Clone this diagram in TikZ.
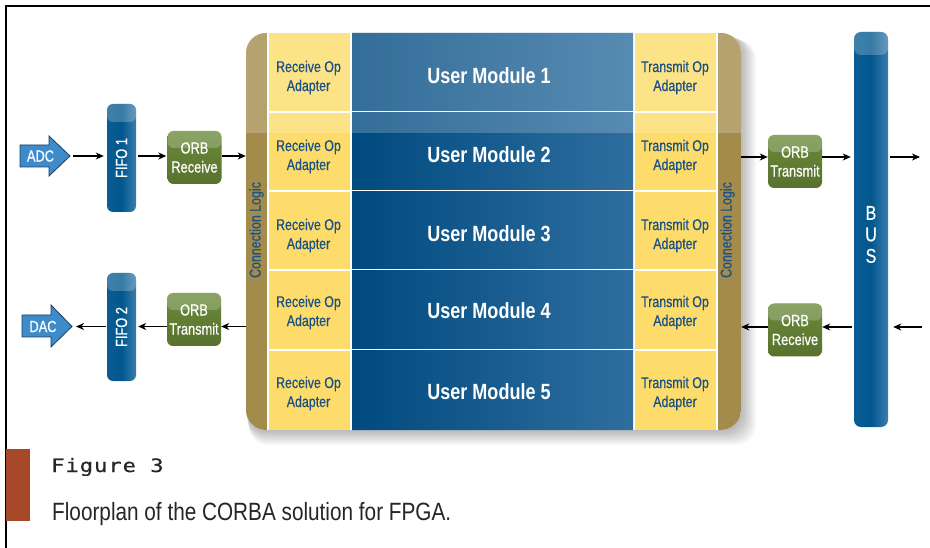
\documentclass[tikz,border=0pt]{standalone}
\usepackage{fontspec}
\setmainfont{Liberation Sans}
\newfontfamily\cnd[FakeStretch=0.8,FakeBold=0.6]{Liberation Sans}
\newfontfamily\cndb[FakeStretch=0.82]{Liberation Sans Bold}
\newfontfamily\capf[FakeStretch=0.83]{Liberation Sans}
\newfontfamily\figmono[FakeStretch=1.2,LetterSpace=5,FakeBold=0.5]{DejaVu Sans Mono}
\usetikzlibrary{arrows.meta,calc}

\definecolor{txtblue}{HTML}{1B5283}
\definecolor{tanstrip}{HTML}{A38B4B}
\definecolor{adapt}{HTML}{FDDC6B}
\definecolor{modL}{HTML}{004A7F}
\definecolor{modR}{HTML}{2F6E9F}
\definecolor{fifoL}{HTML}{0A5D92}
\definecolor{fifoM}{HTML}{00578E}
\definecolor{fifoR}{HTML}{3D7DAD}
\definecolor{orbT}{HTML}{6B8A3A}
\definecolor{orbB}{HTML}{58722E}
\definecolor{arrfill}{HTML}{3D8BCB}
\definecolor{arrline}{HTML}{1E3F5E}
\definecolor{capred}{HTML}{A8482A}

\tikzset{
  arr/.style={line width=1.2pt,-{Stealth[length=8pt,width=7pt,inset=2.5pt]}},
  gloss/.style={path picture={\fill[white,opacity=.22]
      ([yshift=2pt]path picture bounding box.north west) rectangle
      ([yshift=-#1]path picture bounding box.north east);}},
  fifobox/.style={rounded corners=6pt,minimum width=29pt,minimum height=108pt,
      inner sep=0pt,left color=fifoL,right color=fifoR,middle color=fifoM,gloss=18pt},
  busbox/.style={rounded corners=7pt,minimum width=34pt,minimum height=395pt,
      inner sep=0pt,left color=fifoL,right color=fifoR,middle color=fifoM,gloss=23pt},
  orbbox/.style={rounded corners=6pt,minimum width=54pt,minimum height=53pt,
      inner sep=0pt,top color=orbT,bottom color=orbB,gloss=17pt},
  whitetext/.style={text=white,font=\cnd\fontsize{16}{19}\selectfont,align=center,inner sep=0pt},
  adtext/.style={text=txtblue,font=\cnd\fontsize{15.5}{19}\selectfont,align=center,inner sep=0pt},
  modtext/.style={text=white,font=\cndb\fontsize{22}{24}\selectfont,inner sep=0pt},
  bigarrow/.style={fill=arrfill,draw=arrline,line width=0.8pt},
}

\begin{document}
\begin{tikzpicture}[x=1pt,y=-1pt]
\useasboundingbox (0,0) rectangle (930,548);
\fill[white] (0,0) rectangle (930,548);

% frame
\draw[line width=1.3pt] (6,548) -- (6,6) -- (930,6);

% soft shadow under the FPGA floorplan
\foreach \k in {1,...,14}
  \fill[black,opacity=0.02,rounded corners=20pt]
    (246+0.2*\k,33+0.5*\k) rectangle (741+1.1*\k,430+1.1*\k);

% FPGA floorplan: strips, adapters and user modules
\begin{scope}
  \clip[rounded corners=20pt] (246,33) rectangle (741,430);
  \fill[white] (246,33) rectangle (741,430);
  \fill[tanstrip] (246,33) rectangle (267,430);
  \fill[tanstrip] (718,33) rectangle (741,430);
  \foreach \ya/\yb in {33/111,113/190,192/269,271/349,351/430}{
    \fill[adapt] (269,\ya) rectangle (350,\yb);
    \shade[left color=modL,right color=modR] (352,\ya) rectangle (633,\yb);
    \fill[adapt] (635,\ya) rectangle (716,\yb);
  }
  \fill[white,opacity=.2] (246,33) rectangle (741,133);
\end{scope}
\node[minimum width=495pt,minimum height=397pt,inner sep=0pt] (fpga) at (493.5,231.5) {};

\foreach \i/\y in {1/76,2/155,3/234,4/311,5/392}{
  \node[modtext] (um\i) at (489,\y) {User Module \i};
  \node[adtext] (rx\i) at (308.5,\y+1.5) {Receive Op\\Adapter};
  \node[adtext] (tx\i) at (675,\y+1.5) {Transmit Op\\Adapter};
}
\node[adtext,rotate=90] (clL) at (256.5,230) {Connection Logic};
\node[adtext,rotate=90] (clR) at (727.5,230) {Connection Logic};

% converters
\fill[bigarrow] (20,145) -- (49,145) -- (49,136) -- (70,156) -- (49,176) -- (49,167) -- (20,167) -- cycle;
\node[whitetext] (adc) at (40.5,156) {ADC};
\coordinate (adctip) at (70,156);
\fill[bigarrow] (22,315) -- (51,315) -- (51,305) -- (72,326.5) -- (51,347) -- (51,337) -- (22,337) -- cycle;
\node[whitetext] (dac) at (43,326.5) {DAC};
\coordinate (dactip) at (72,326.5);

% FIFOs
\node[fifobox] (fifo1) at (121.5,158) {};
\node[whitetext,rotate=90] (fifo1t) at (fifo1) {FIFO 1};
\node[fifobox] (fifo2) at (121.5,327) {};
\node[whitetext,rotate=90] (fifo2t) at (fifo2) {FIFO 2};

% ORB blocks
\node[orbbox] (orbrx1) at (194.5,157.5) {};
\node[whitetext] at (orbrx1) {ORB\\Receive};
\node[orbbox] (orbtx1) at (194,319.5) {};
\node[whitetext] at (orbtx1) {ORB\\Transmit};
\node[orbbox] (orbtx2) at (795,161.5) {};
\node[whitetext] at (orbtx2) {ORB\\Transmit};
\node[orbbox] (orbrx2) at (795,330) {};
\node[whitetext] at (orbrx2) {ORB\\Receive};

% bus
\node[busbox] (bus) at (871,229.5) {};
\node[whitetext,font=\cnd\fontsize{20}{21.5}\selectfont] (bust) at (871,234.5) {B\\U\\S};
\coordinate (busout) at (920,157);
\coordinate (busin) at (922,327);

% data paths
\coordinate (ya) at (0,156);
\coordinate (yb) at (0,326.5);
\coordinate (yc) at (0,157);
\coordinate (yd) at (0,327);
\draw[arr,shorten <=3pt,shorten >=3pt] (adctip) -- (adctip -| fifo1.west);
\draw[arr,shorten <=2pt,shorten >=1pt] (fifo1.east |- ya) -- (orbrx1.west |- ya);
\draw[arr] (orbrx1.east |- ya) -- (fpga.west |- ya);
\draw[arr] (fpga.west |- yb) -- (orbtx1.east |- yb);
\draw[arr,shorten >=2pt] (orbtx1.west |- yb) -- (fifo2.east |- yb);
\draw[arr,shorten <=1pt,shorten >=4pt] (fifo2.west |- yb) -- (dactip);
\draw[arr] (fpga.east |- yc) -- (orbtx2.west |- yc);
\draw[arr,shorten >=3pt] (orbtx2.east |- yc) -- (bus.west |- yc);
\draw[arr,shorten <=2pt] (bus.east |- yc) -- (busout);
\draw[arr,shorten >=5pt] (busin) -- (bus.east |- yd);
\draw[arr,shorten <=2pt] (bus.west |- yd) -- (orbrx2.east |- yd);
\draw[arr] (orbrx2.west |- yd) -- (fpga.east |- yd);

% caption
\fill[capred] (6,449) rectangle (30,521);
\node[anchor=base west,inner sep=0pt,text=black!85,font=\figmono\fontsize{18.5}{20}\selectfont] (figno) at (51,472) {Figure 3};
\node[anchor=base west,inner sep=0pt,text=black!85,font=\capf\fontsize{25}{28}\selectfont] (figcap) at (52,520.5) {Floorplan of the CORBA solution for FPGA.};
\end{tikzpicture}
\end{document}
